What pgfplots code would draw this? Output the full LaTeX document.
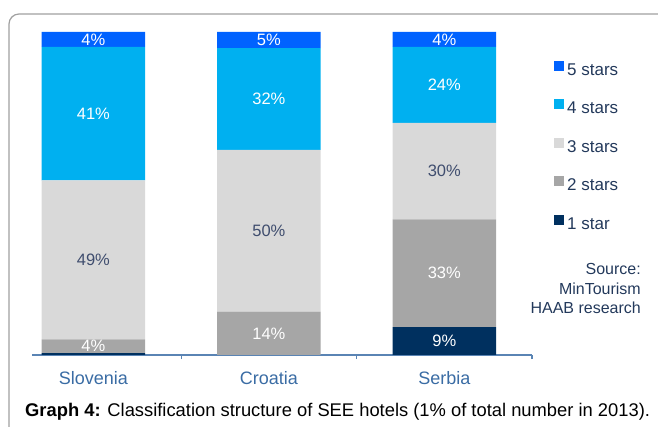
\documentclass[border=0pt]{standalone}
\usepackage{fontspec}
\setmainfont{Liberation Sans}
\usepackage{pgfplots}
\pgfplotsset{compat=1.18}
\definecolor{fivestar}{HTML}{0062FF}
\definecolor{fourstar}{HTML}{00B0F0}
\definecolor{threestar}{HTML}{D9D9D9}
\definecolor{twostar}{HTML}{A6A6A6}
\definecolor{onestar}{HTML}{00305F}
\definecolor{axisblue}{HTML}{5A84B4}
\definecolor{ticktext}{HTML}{3A6CA4}
\definecolor{navytext}{HTML}{23395B}
\definecolor{midtext}{HTML}{3F4D6E}
\definecolor{framegray}{HTML}{A0A0A0}

\begin{document}
\begin{tikzpicture}
\useasboundingbox (0,0) rectangle (658bp,427bp);
\draw[framegray, line width=1.2bp, rounded corners=10bp] (9bp,-30bp) rectangle (700bp,413bp);
\begin{axis}[
  at={(32bp,72bp)}, anchor=south west,
  scale only axis, width=500bp, height=323bp,
  ybar stacked, bar width=0.59,
  xmin=-0.35, xmax=2.5, ymin=0, ymax=100,
  axis x line=bottom, axis y line=none,
  x axis line style={-, draw=axisblue, line width=1.3bp},
  xtick={0,1,2}, xticklabels={Slovenia,Croatia,Serbia},
  major tick length=0pt,
  minor xtick={0.5,1.5,2.5}, minor tick length=4bp,
  tick align=outside, tick style={draw=axisblue, line width=1.1bp},
  xticklabel style={anchor=base, yshift=-29bp, text=ticktext, font=\fontsize{18bp}{20bp}\selectfont},
  ytick=\empty,
  point meta=explicit symbolic,
  nodes near coords,
  every node near coord/.append style={anchor=center, font=\fontsize{16.5bp}{18bp}\selectfont, text=white},
  reverse legend,
  legend cell align=left,
  legend style={at={(1.044,0.912)}, anchor=north west, draw=none, fill=none, inner sep=0pt,
    row sep=21bp, font=\fontsize{17bp}{19bp}\selectfont,
    nodes={text=navytext, inner sep=0pt, text height=12bp, text depth=3bp},
    /tikz/every odd column/.append style={column sep=3bp}},
  legend image code/.code={\fill[#1,draw=none] (0bp,0bp) rectangle (10bp,10bp);},
]
% 1 star
\addplot[fill=onestar, draw=none] coordinates {(0,0.6) [{}] (1,0) [{}] (2,8.6) [9\%]};
% 2 stars
\addplot[fill=twostar, draw=none] coordinates {(0,4.2) [4\%] (1,13.4) [14\%] (2,33.4) [33\%]};
% 3 stars
\addplot[fill=threestar, draw=none, every node near coord/.append style={text=midtext}] coordinates {(0,49.3) [49\%] (1,50.1) [50\%] (2,29.9) [30\%]};
% 4 stars
\addplot[fill=fourstar, draw=none] coordinates {(0,41.3) [41\%] (1,31.5) [32\%] (2,23.5) [24\%]};
% 5 stars
\addplot[fill=fivestar, draw=none] coordinates {(0,4.6) [4\%] (1,5.0) [5\%] (2,4.6) [4\%]};
\legend{1 star,2 stars,3 stars,4 stars,5 stars}
\end{axis}
\node[anchor=base east, align=right, inner sep=0pt, text=navytext, font=\fontsize{16bp}{19.5bp}\selectfont] at (641bp,113bp) {Source:\\MinTourism\\HAAB research};
\node[anchor=base west, inner sep=0pt, font=\fontsize{18.35bp}{20bp}\selectfont] at (25bp,11bp) {\textbf{Graph 4:} Classification structure of SEE hotels (1\% of total number in 2013).};
\end{tikzpicture}
\end{document}
